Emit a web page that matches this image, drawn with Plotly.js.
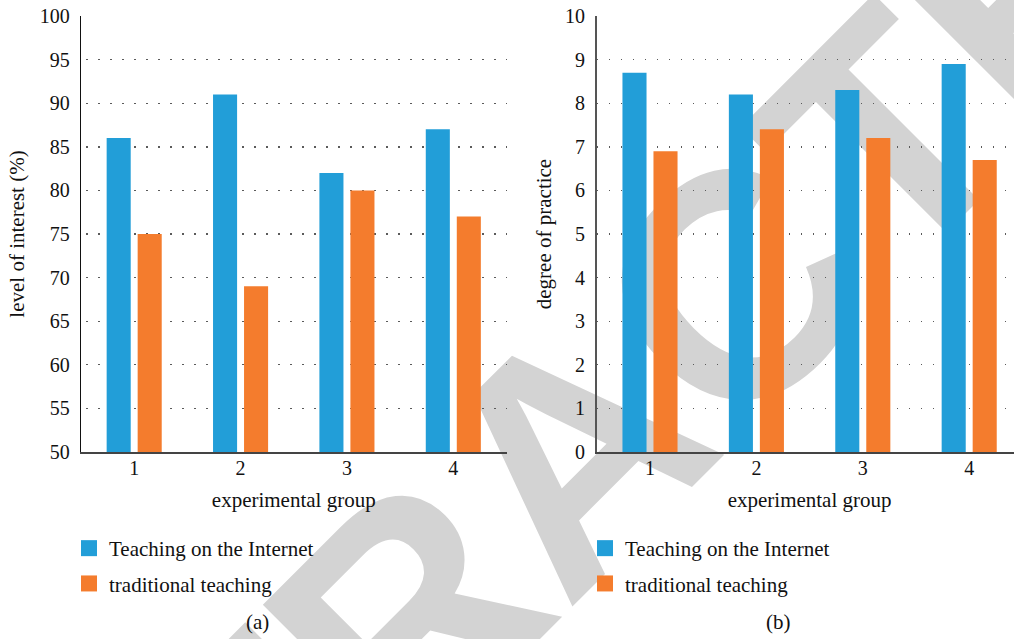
<!DOCTYPE html>
<html>
<head>
<meta charset="utf-8">
<script src="https://cdn.plot.ly/plotly-3.0.1.min.js"></script>
<style>
  html, body { margin: 0; padding: 0; background: #ffffff; overflow: hidden; width: 1014px; height: 639px; }
  #wrap { position: relative; width: 1014px; height: 639px; overflow: hidden; }
  #stamp {
    position: absolute; left: 570px; top: 452px;
    transform: translate(-50%, -50%) rotate(-45deg);
    font-family: "Liberation Sans", Arial, sans-serif; font-weight: bold;
    font-size: 320px; line-height: 1; color: #d3d3d3; white-space: nowrap;
    z-index: 0; user-select: none;
  }
  #chart { position: absolute; left: 0; top: 0; width: 1030px; height: 639px; z-index: 1; }
</style>
</head>
<body>
<div id="wrap">
  <div id="stamp">RETRACTED</div>
  <div id="chart"></div>
</div>
<script>
// experimental groups shared by both panels
const groups = [1, 2, 3, 4];
const seriesNames = ['Teaching on the Internet', 'traditional teaching'];

// (a) level of interest (%)
const interestOnline = [86, 91, 82, 87];
const interestTraditional = [75, 69, 80, 77];

// (b) degree of practice
const practiceOnline = [8.7, 8.2, 8.3, 8.9];
const practiceTraditional = [6.9, 7.4, 7.2, 6.7];

const BLUE = '#229ed8';
const ORANGE = '#f47c2d';
const FONT = '"Liberation Serif", "Times New Roman", serif';
const INK = '#111111';

const W = 1030, H = 639;
const px = v => v / W;
const py = v => (H - v) / H;

function bars(x, y, color, xa, ya) {
  return { type: 'bar', x: x, y: y, xaxis: xa, yaxis: ya, showlegend: false,
           marker: { color: color }, hoverinfo: 'x+y' };
}
// legend keys (square swatches) for each panel
function key(name, color, legendId, group) {
  return { type: 'scatter', mode: 'markers', x: [null], y: [null], name: name,
           legend: legendId, legendgroup: group,
           marker: { symbol: 'square', size: 16, color: color } };
}

const data = [
  bars(groups, interestOnline, BLUE, 'x', 'y'),
  bars(groups, interestTraditional, ORANGE, 'x', 'y'),
  bars(groups, practiceOnline, BLUE, 'x2', 'y2'),
  bars(groups, practiceTraditional, ORANGE, 'x2', 'y2'),
  key(seriesNames[0], BLUE, 'legend', 'a1'),
  key(seriesNames[1], ORANGE, 'legend', 'a2'),
  key(seriesNames[0], BLUE, 'legend2', 'b1'),
  key(seriesNames[1], ORANGE, 'legend2', 'b2')
];

const titleFont = { family: FONT, size: 21, color: INK };
const tickFont = { family: FONT, size: 20, color: INK };

const xCommon = {
  type: 'linear', range: [0.5, 4.5], tickvals: groups, ticktext: groups.map(String),
  showgrid: false, zeroline: false, showline: true, linecolor: '#444444', linewidth: 1.8,
  ticks: '', ticklabelstandoff: -3, tickfont: tickFont, fixedrange: true,
  title: { text: 'experimental group', font: titleFont, standoff: 14 }
};

const yCommon = {
  showgrid: true, gridcolor: '#5a5a5a', gridwidth: 1.4, zeroline: false, ticks: '',
  tickfont: tickFont, ticklabelstandoff: 6, showline: true, fixedrange: true,
  domain: [py(452), py(16)]
};

const legendCommon = {
  font: { family: FONT, size: 21, color: INK }, bgcolor: 'rgba(0,0,0,0)',
  xanchor: 'left', yanchor: 'top', orientation: 'v', tracegroupgap: 5, itemwidth: 30
};

const layout = {
  width: W, height: H,
  margin: { l: 0, r: 0, t: 0, b: 0 },
  paper_bgcolor: 'rgba(0,0,0,0)', plot_bgcolor: 'rgba(0,0,0,0)',
  font: { family: FONT, color: INK },
  barmode: 'group', bargap: 0.417, bargroupgap: 0.224,
  xaxis: Object.assign({}, xCommon, { domain: [px(81), px(506.5)], anchor: 'y' }),
  xaxis2: Object.assign({}, xCommon, { domain: [px(596.8), px(1022.4)], anchor: 'y2' }),
  yaxis: Object.assign({}, yCommon, { anchor: 'x', range: [50, 100], dtick: 5,
    griddash: '0px,5.3px,2px,4.7px', linecolor: '#111111', linewidth: 1.2,
    title: { text: 'level of interest (%)', font: titleFont, standoff: 9 } }),
  yaxis2: Object.assign({}, yCommon, { anchor: 'x2', range: [0, 10], dtick: 1,
    griddash: '1.5px,10.5px', linecolor: '#555555', linewidth: 1.8,
    title: { text: 'degree of practice', font: titleFont, standoff: 8 } }),
  legend: Object.assign({}, legendCommon, { x: px(69), y: py(528) }),
  legend2: Object.assign({}, legendCommon, { x: px(585), y: py(528) }),
  annotations: [
    { text: '(a)', xref: 'paper', yref: 'paper', x: px(257), y: py(622),
      xanchor: 'center', yanchor: 'middle', showarrow: false, font: titleFont },
    { text: '(b)', xref: 'paper', yref: 'paper', x: px(778), y: py(622),
      xanchor: 'center', yanchor: 'middle', showarrow: false, font: titleFont }
  ],
  showlegend: true
};

Plotly.newPlot('chart', data, layout, { staticPlot: true, displayModeBar: false });
</script>
</body>
</html>
